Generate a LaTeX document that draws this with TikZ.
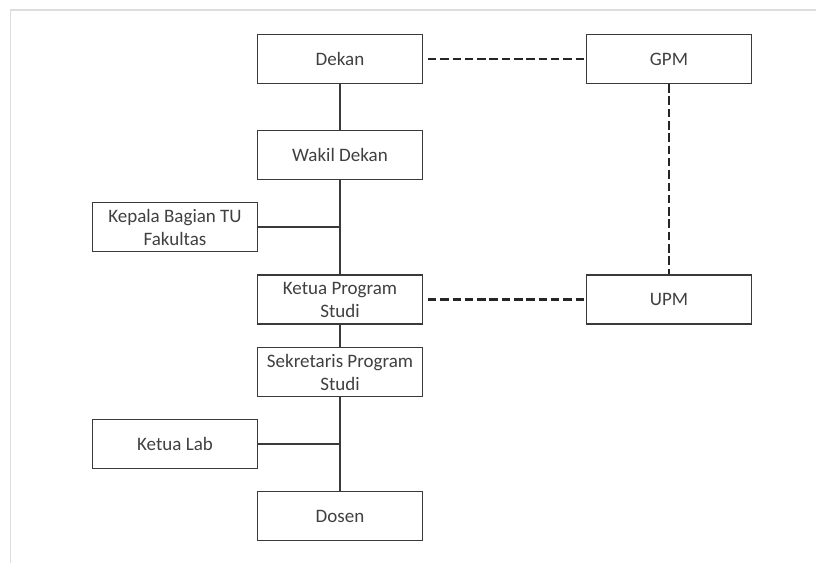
\documentclass[tikz,border=0pt]{standalone}
\usepackage{fontspec}
\setmainfont{Carlito}
\definecolor{boxline}{HTML}{3A3A3A}
\definecolor{txt}{HTML}{404040}
\definecolor{frameline}{HTML}{DDDDDD}
\begin{document}
\begin{tikzpicture}[x=1pt,y=-1pt,
  box/.style={draw=boxline,line width=1.3pt,rectangle,minimum width=164.5pt,minimum height=49pt,
    inner sep=0pt,align=center,text=txt,font=\fontsize{19}{23}\selectfont},
  solidline/.style={draw=boxline,line width=1.2pt},
  dashline/.style={draw=black!85,line width=2.2pt,dash pattern=on 8.5pt off 3.8pt}]
\useasboundingbox (0,0) rectangle (816,563);
\fill[white] (0,0) rectangle (816,563);
\draw[frameline,line width=1.5pt] (10.5,563) -- (10.5,10) -- (816,10);
\node[box] (dekan) at (340,59) {Dekan};
\node[box] (gpm) at (669,59) {GPM};
\node[box] (wakil) at (340,155) {Wakil Dekan};
\node[box] (kepala) at (175,227) {Kepala Bagian TU\\Fakultas};
\node[box] (ketua) at (340,299.5) {Ketua Program\\Studi};
\node[box] (upm) at (669,299.5) {UPM};
\node[box] (sekr) at (340,372) {Sekretaris Program\\Studi};
\node[box] (lab) at (175,444) {Ketua Lab};
\node[box] (dosen) at (340,516) {Dosen};
\draw[solidline] (dekan.south) -- (wakil.north);
\draw[solidline] (wakil.south) -- (ketua.north);
\draw[solidline] (kepala.east) -- (wakil.south |- kepala.east);
\draw[solidline] (ketua.south) -- (sekr.north);
\draw[solidline] (sekr.south) -- (dosen.north);
\draw[solidline] (lab.east) -- (sekr.south |- lab.east);
\draw[dashline] ([xshift=5pt]dekan.east) -- (gpm.west);
\draw[dashline] ([xshift=5pt]ketua.east) -- (upm.west);
\draw[dashline] (gpm.south) -- (upm.north);
\end{tikzpicture}
\end{document}
